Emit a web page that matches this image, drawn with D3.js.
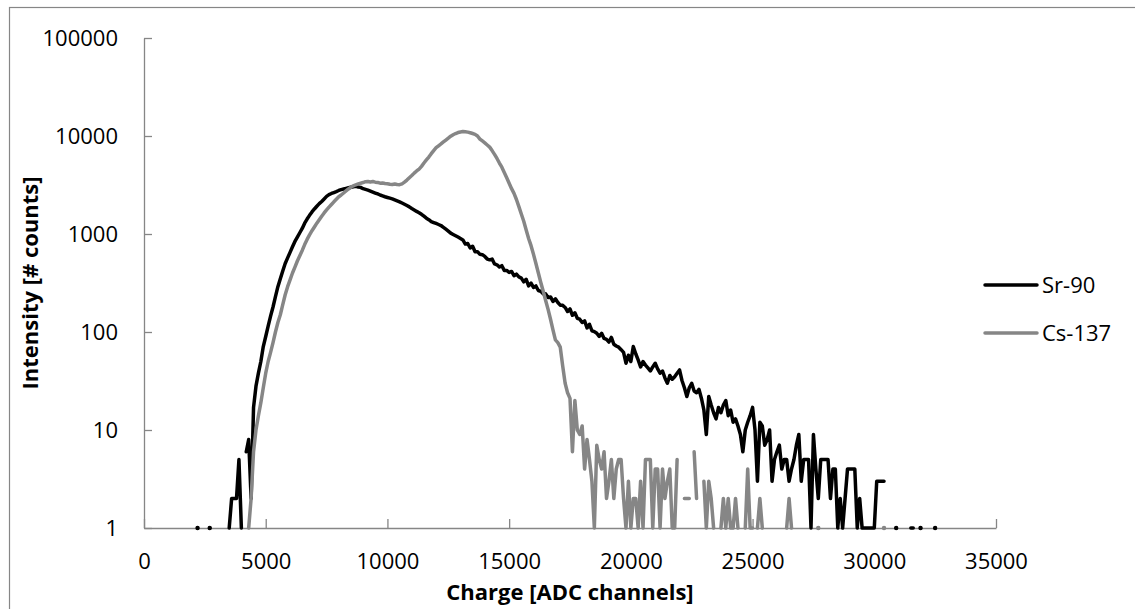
<!DOCTYPE html>
<html lang="en">
<head>
  <meta charset="utf-8" />
  <title>Sr-90 / Cs-137 charge spectrum</title>
  <script type="text/javascript" src="https://cdn.jsdelivr.net/npm/d3@7"></script>
  <style type="text/css">
    body { margin: 0; background: white; }
    text { font-family: "Open Sans", sans-serif; fill: #000; }
    .axis path, .axis line { stroke: #868686; stroke-width: 1.3; }
    .axis text { font-size: 22px; }
    .title { font-size: 22px; font-weight: bold; }
  </style>
</head>
<body>
<script type="text/javascript">

// bins of 100 ADC channels, 0 = empty bin (not drawn on a log axis)
var binWidth = 100;
var seriesNames = ["Sr-90", "Cs-137"];
var xTicks = [0, 5000, 10000, 15000, 20000, 25000, 30000, 35000];
var yTicks = [1, 10, 100, 1000, 10000, 100000];

var srStart = 2000;
var srCounts = [
  0,0,1,0,0,0,0,1,0,0,
  0,0,0,0,0,1,2,2,2,5,
  1,0,6,8,2,17,28,38,50,71,
  90,115,145,180,230,290,350,420,500,570,
  650,740,840,930,1030,1140,1290,1420,1550,1680,
  1800,1920,2040,2150,2280,2420,2520,2590,2650,2710,
  2780,2840,2880,2920,2960,3000,3030,3060,3020,2990,
  2900,2850,2800,2740,2680,2620,2560,2500,2450,2400,
  2360,2320,2280,2230,2180,2130,2070,2010,1950,1890,
  1820,1760,1700,1650,1590,1520,1450,1400,1340,1310,
  1280,1250,1220,1170,1120,1070,1020,990,960,930,
  900,870,790,800,720,750,660,660,620,615,
  590,555,545,555,495,485,460,475,425,425,
  405,415,375,390,365,355,325,345,295,315,
  285,295,265,260,245,245,225,228,205,218,
  200,188,187,178,162,172,148,157,138,135,
  125,130,110,120,103,101,97,90,97,86,
  84,79,88,75,72,70,66,62,48,58,
  50,71,60,52,44,50,46,43,40,44,
  48,42,38,40,34,30,36,33,35,38,
  41,32,27,22,27,30,25,24,26,21,
  16,9,22,18,15,13,17,15,18,20,
  14,16,12,13,11,9,6,10,12,14,
  17,10,3,12,11,7,8,10,3,5,
  6,7,4,5,5,3,4,5,7,9,
  3,5,5,5,1,9,4,2,5,5,
  5,5,2,4,4,1,2,1,2,4,
  4,4,4,1,2,1,1,1,1,1,
  1,3,3,3,3,0,0,0,0,1,
  0,0,0,0,0,1,1,0,0,1,
  0,0,0,0,0,1
];

var csStart = 4300;
var csCounts = [
  1,2,6,10,14,19,27,
  38,50,62,78,100,125,150,190,240,290,
  340,400,460,530,600,680,780,880,980,1080,
  1180,1290,1400,1520,1640,1760,1880,2000,2130,2260,
  2400,2500,2620,2750,2880,3000,3100,3180,3250,3300,
  3350,3420,3440,3400,3430,3380,3360,3300,3320,3280,
  3260,3220,3200,3240,3200,3190,3250,3380,3550,3750,
  3950,4180,4400,4600,4900,5300,5700,6100,6600,7100,
  7600,7950,8300,8700,9100,9500,9950,10300,10600,10850,
  11000,11100,11050,10950,10800,10600,10400,10000,9300,8900,
  8500,8100,7700,7100,6500,5900,5300,4800,4250,3750,
  3300,2900,2600,2250,1900,1600,1350,1100,900,760,
  620,500,400,320,260,210,170,135,105,83,
  78,70,45,30,24,21,6,20,10,9,
  11,4,8,5,3,1,7,5,4,6,
  2,3,5,2,4,5,5,2,1,3,
  1,2,2,1,3,1,5,5,5,1,
  4,4,1,4,2,3,4,1,1,5,
  0,0,2,2,2,0,6,2,0,0,
  3,1,3,2,1,0,0,1,2,1,
  2,1,1,2,1,0,0,1,4,1,
  1,0,1,2,1,0,0,0,0,0,
  0,0,0,0,1,2,1,0,0,0,
  0,0,0,0,0,0,0,1,0,0,
  0,0,0,0,0,0,0,0,0,0,
  0,0,0,0,0,0,0,0,0,0,
  0,0,0,0,1
];

var w = 1135;
var h = 609;
var pad = {left: 144, right: 139, top: 38, bottom: 81};

function toPoints(start, counts) {
  return counts.map(function(c, i) { return {ch: start + i * binWidth, n: c}; });
}

var series = [
  {name: seriesNames[0], color: "#000000", points: toPoints(srStart, srCounts)},
  {name: seriesNames[1], color: "#868686", points: toPoints(csStart, csCounts)}
];

var xScale = d3.scaleLinear()
               .domain([0, 35000])
               .range([pad.left, w - pad.right]);
var yScale = d3.scaleLog()
               .domain([1, 100000])
               .range([h - pad.bottom, pad.top]);

var svg = d3.select("body")
            .append("svg")
            .attr("width", w)
            .attr("height", h);

// chart border
svg.append("rect")
   .attr("x", 9.5)
   .attr("y", 7.5)
   .attr("width", 1140)
   .attr("height", 620)
   .attr("fill", "none")
   .attr("stroke", "#868686")
   .attr("stroke-width", 1.2);

var xAxis = d3.axisBottom(xScale)
              .tickValues(xTicks)
              .tickSize(-9)
              .tickSizeOuter(0)
              .tickPadding(25)
              .tickFormat(d3.format("d"));
var yAxis = d3.axisLeft(yScale)
              .tickValues(yTicks)
              .tickSize(-8)
              .tickSizeOuter(0)
              .tickPadding(26)
              .tickFormat(d3.format("d"));

svg.append("g")
   .attr("class", "axis")
   .attr("transform", "translate(0," + (h - pad.bottom) + ")")
   .call(xAxis);
svg.append("g")
   .attr("class", "axis")
   .attr("transform", "translate(" + pad.left + ",0)")
   .call(yAxis);
svg.selectAll(".axis text").attr("fill", "#000");

var line = d3.line()
             .defined(function(d) { return d.n > 0; })
             .x(function(d) { return xScale(d.ch); })
             .y(function(d) { return yScale(d.n); });

series.forEach(function(s) {
  svg.append("path")
     .datum(s.points)
     .attr("d", line)
     .attr("fill", "none")
     .attr("stroke", s.color)
     .attr("stroke-width", 3.5)
     .attr("stroke-linejoin", "round")
     .attr("stroke-linecap", "round");
  // single non-empty bins between empty ones show as dots
  var lone = s.points.filter(function(d, i, a) {
    return d.n > 0 && (i === 0 || a[i - 1].n === 0) && (i === a.length - 1 || a[i + 1].n === 0);
  });
  svg.selectAll(null)
     .data(lone)
     .enter()
     .append("circle")
     .attr("cx", function(d) { return xScale(d.ch); })
     .attr("cy", function(d) { return yScale(d.n); })
     .attr("r", 2.2)
     .attr("fill", s.color);
});

// axis titles
svg.append("text")
   .attr("class", "title")
   .attr("x", 570)
   .attr("y", 600)
   .attr("text-anchor", "middle")
   .text("Charge [ADC channels]");
svg.append("text")
   .attr("class", "title")
   .attr("transform", "translate(38," + ((pad.top + h - pad.bottom) / 2) + ") rotate(-90)")
   .attr("text-anchor", "middle")
   .text("Intensity [# counts]");

// legend
var legend = svg.append("g")
                .attr("transform", "translate(985,285)");
legend.selectAll("g")
      .data(series)
      .enter()
      .append("g")
      .attr("transform", function(d, i) { return "translate(0," + (i * 48) + ")"; })
      .each(function(d) {
        var g = d3.select(this);
        g.append("line")
         .attr("x1", 0).attr("x2", 52)
         .attr("stroke", d.color)
         .attr("stroke-width", 3.5)
         .attr("stroke-linecap", "round");
        g.append("text")
         .attr("x", 57)
         .attr("dy", "0.35em")
         .style("font-size", "22px")
         .text(d.name);
      });

</script>
</body>
</html>
